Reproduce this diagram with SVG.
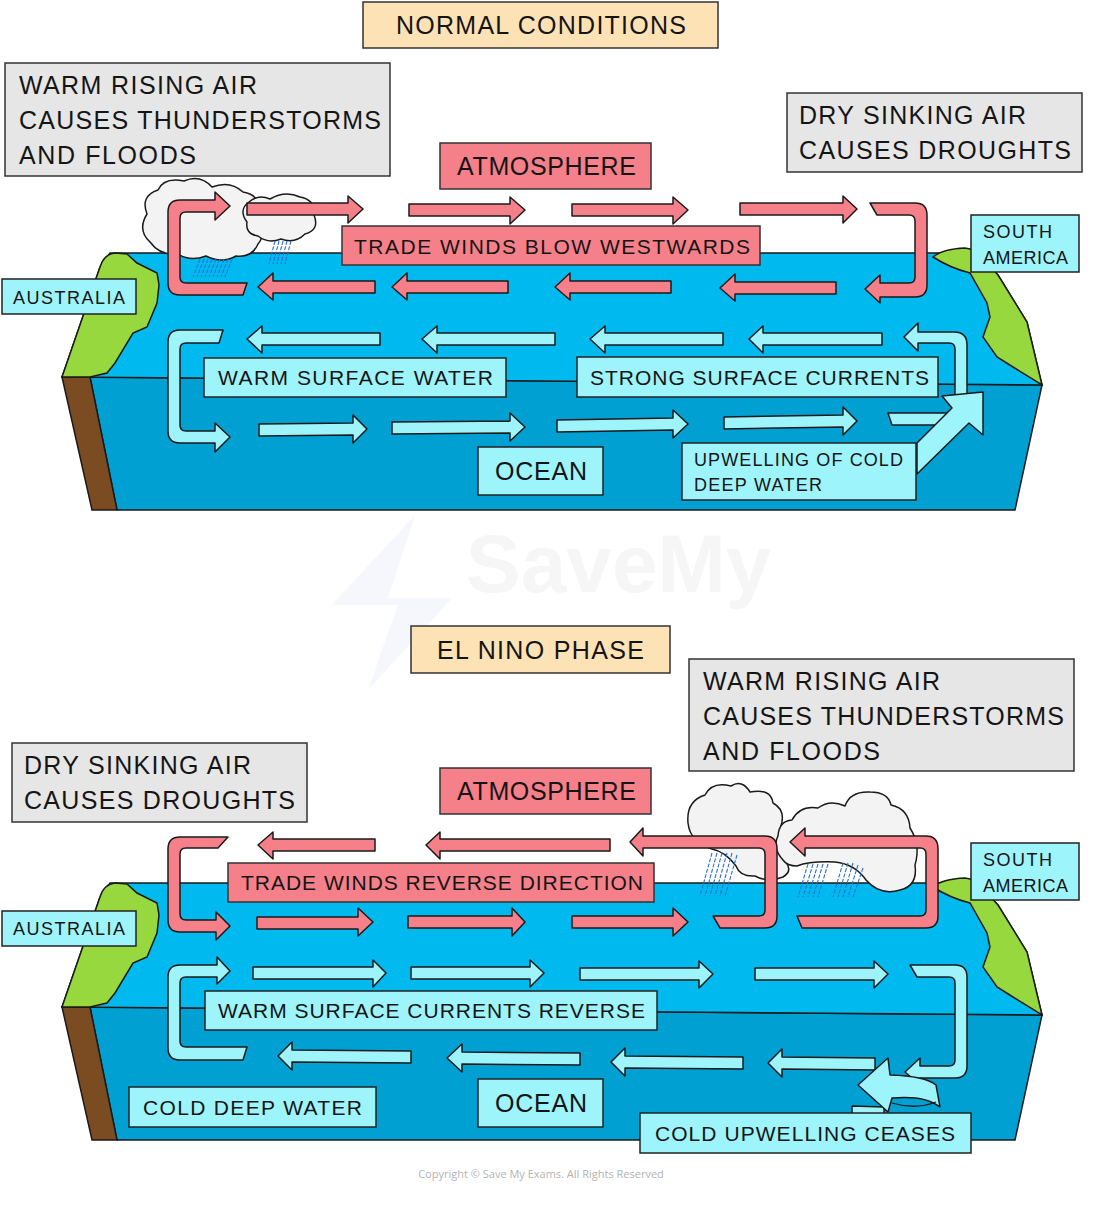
<svg xmlns="http://www.w3.org/2000/svg" xmlns:xlink="http://www.w3.org/1999/xlink" width="1100" height="1205" viewBox="0 0 1100 1205">
<style>
.pk{fill:#f6808a;stroke:#1a1a1a;stroke-width:1.5;stroke-linejoin:round}
.cy{fill:#9ef4fb;stroke:#1a1a1a;stroke-width:1.5;stroke-linejoin:round}
.bx-grey{fill:#e6e6e6;stroke:#333;stroke-width:1.5}
.bx-peach{fill:#fde2b5;stroke:#333;stroke-width:1.5}
.bx-pink{fill:#f6808a;stroke:#333;stroke-width:1.5}
.bx-cyan{fill:#9ef4fb;stroke:#222;stroke-width:1.5}
.cloud{fill:#f3f3f3;stroke:#1a1a1a;stroke-width:1.5;stroke-linejoin:round}
.rain{stroke:#2a6fd6;stroke-width:1.1;stroke-dasharray:4 1.5;fill:none}
.t{font-family:"Liberation Sans",Arial,sans-serif;fill:#151515}
.L{font-size:25px}
.M{font-size:21px}
.S{font-size:18px}
</style>
<defs>
<g id="oceanBlock">
<path d="M90,377 L1042,385 L1015,510 L117,510 Z" fill="#00a0d3" stroke="#1a1a1a" stroke-width="1.5"/>
<path d="M110,253 L975,253 L998,275 L1027,322 L1042,385 L62,377 L100,267 Z" fill="#00b9ef" stroke="#1a1a1a" stroke-width="1.5"/>
<path d="M62,377 L90,377 L117,510 L92,510 Z" fill="#7b4b22" stroke="#1a1a1a" stroke-width="1.5"/>
<path d="M62,377 L100,267 Q104,254 115,253 L127,254 L137,263 L157,273 L159,285 L157,303 L147,327 L133,333 L115,363 L107,373 L90,377 Z" fill="#97d83f" stroke="#1a1a1a" stroke-width="1.5"/>
<path d="M933,257 Q942,249 965,248 L975,250 L998,275 L1027,322 L1042,385 L1013,367 L997,357 L983,337 L990,317 L987,303 L970,273 Q950,268 933,257 Z" fill="#97d83f" stroke="#1a1a1a" stroke-width="1.5"/>
</g>
</defs>
<rect width="1100" height="1205" fill="#ffffff"/>

<g id="watermark" opacity="0.5">
<path d="M415,515 L332,605 L398,605 L368,690 L452,598 L388,598 Z" fill="#eef1fa"/>
<text x="466" y="592" font-family="Liberation Sans,Arial,sans-serif" font-weight="bold" font-size="82" fill="#eeeeef">SaveMy</text>
</g>

<!-- ===== TOP: NORMAL CONDITIONS ===== -->
<g id="ocean-top"><use xlink:href="#oceanBlock" href="#oceanBlock"/></g>

<g id="clouds-top">
<path class="cloud" d="M150,242 Q137,230 147,214 Q140,196 158,190 Q164,177 184,181 Q200,174 212,187 Q230,180 243,192 Q262,195 258,215 Q268,232 258,244 Q252,258 236,256 Q222,264 206,256 Q190,262 178,254 Q160,256 150,242 Z"/>
<path class="cloud" d="M247,222 Q238,210 249,202 Q258,194 270,199 Q285,190 300,197 Q316,200 314,215 Q320,230 305,234 Q295,244 281,239 Q268,244 258,236 Q245,234 247,222 Z"/>
<g class="rain">
<path d="M200,259 L193,277 M204,259 L197,277 M208,259 L201,277 M212,259 L205,277 M216,259 L209,277 M220,259 L213,277 M224,259 L217,277 M228,259 L221,277 M232,259 L225,277"/>
<path d="M275,241 L269,264 M279,241 L273,264 M283,241 L277,264 M287,241 L281,264 M291,241 L285,264"/>
</g>
</g>

<g id="connectors-top">
<path class="pk" d="M247,203 L348,203 L348,196 L363,209 L348,223 L348,215 L247,215 Z"/>
<path class="pk" d="M409,204 L510,204 L510,197 L525,210 L510,224 L510,216 L409,216 Z"/>
<path class="pk" d="M572,204 L673,204 L673,197 L688,210 L673,224 L673,216 L572,216 Z"/>
<path class="pk" d="M740,203 L843,203 L843,196 L857,209 L843,223 L843,215 L740,215 Z"/>
<path class="pk" d="M247,283 L186,283 Q180,283 180,277 L180,218 Q180,212 186,212 L215,212 L215,220 L230,206 L215,192 L215,200 L180,200 Q168,200 168,212 L168,283 Q168,295 180,295 L243,295 Z"/>
<path class="pk" d="M870,203 L915,203 Q927,203 927,215 L927,285 Q927,297 915,297 L880,297 L880,303 L865,289 L880,275 L880,283 L909,283 Q915,283 915,277 L915,221 Q915,215 909,215 L877,215 Z"/>
<path class="pk" d="M375,281 L273,281 L273,273 L258,287 L273,300 L273,293 L375,293 Z"/>
<path class="pk" d="M508,281 L407,281 L407,273 L392,287 L407,300 L407,293 L508,293 Z"/>
<path class="pk" d="M671,281 L570,281 L570,273 L555,287 L570,300 L570,293 L671,293 Z"/>
<path class="pk" d="M836,282 L735,282 L735,274 L720,288 L735,301 L735,294 L836,294 Z"/>
<path class="cy" d="M380,333 L262,333 L262,326 L247,339 L262,353 L262,345 L380,345 Z"/>
<path class="cy" d="M555,333 L437,333 L437,326 L422,339 L437,353 L437,345 L555,345 Z"/>
<path class="cy" d="M723,333 L605,333 L605,326 L590,339 L605,353 L605,345 L723,345 Z"/>
<path class="cy" d="M882,333 L763,333 L763,326 L749,339 L763,353 L763,345 L882,345 Z"/>
<path class="cy" d="M223,330 L180,330 Q168,330 168,342 L168,431 Q168,443 180,443 L215,443 L215,452 L230,437 L215,423 L215,431 L186,431 Q180,431 180,425 L180,349 Q180,343 186,343 L219,343 Z"/>
<path class="cy" d="M259,424 L353,423 L353,415 L367,429 L353,443 L353,435 L259,436 Z"/>
<path class="cy" d="M392,422 L510,421 L510,413 L525,427 L510,441 L510,433 L392,434 Z"/>
<path class="cy" d="M557,420 L673,418 L673,410 L688,424 L673,438 L673,430 L557,432 Z"/>
<path class="cy" d="M724,417 L843,415 L843,407 L857,421 L843,435 L843,427 L724,429 Z"/>
<path class="cy" d="M888,413 L952,413 L952,425 L892,425 Z"/>
<path class="cy" d="M967,400 L967,345 Q967,332 954,332 L918,332 L918,323 L904,337 L918,351 L918,343 L949,343 Q955,343 955,349 L955,400 Z"/>
<path class="cy" d="M917,443 L952,408 L942,396 L983,392 L983,435 L969,423 L917,474 Z"/>
</g>

<g id="n-normal-title"><rect class="bx-peach" x="363" y="2" width="355" height="46"/><text class="t L" x="396" y="34" textLength="290" lengthAdjust="spacing">NORMAL CONDITIONS</text></g>
<g id="n-top-warm-air"><rect class="bx-grey" x="5" y="63" width="385" height="113"/>
<text class="t L" x="19" y="94" textLength="238" lengthAdjust="spacing">WARM RISING AIR</text>
<text class="t L" x="19" y="129" textLength="362" lengthAdjust="spacing">CAUSES THUNDERSTORMS</text>
<text class="t L" x="19" y="164" textLength="177" lengthAdjust="spacing">AND FLOODS</text></g>
<g id="n-top-dry-air"><rect class="bx-grey" x="787" y="93" width="295" height="79"/>
<text class="t L" x="799" y="124" textLength="227" lengthAdjust="spacing">DRY SINKING AIR</text>
<text class="t L" x="799" y="159" textLength="272" lengthAdjust="spacing">CAUSES DROUGHTS</text></g>
<g id="n-top-atmosphere"><rect class="bx-pink" x="440" y="143" width="211" height="46"/><text class="t L" x="457" y="175" textLength="179" lengthAdjust="spacing">ATMOSPHERE</text></g>
<g id="n-top-trade"><rect class="bx-pink" x="342" y="226" width="418" height="39"/><text class="t M" x="354" y="254" textLength="396" lengthAdjust="spacing">TRADE WINDS BLOW WESTWARDS</text></g>
<g id="n-top-sa"><rect class="bx-cyan" x="971" y="215" width="108" height="57"/>
<text class="t S" x="983" y="238" textLength="69" lengthAdjust="spacing">SOUTH</text>
<text class="t S" x="983" y="264" textLength="85" lengthAdjust="spacing">AMERICA</text></g>
<g id="n-top-aus"><rect class="bx-cyan" x="2" y="279" width="134" height="35"/><text class="t S" x="13" y="304" textLength="112" lengthAdjust="spacing">AUSTRALIA</text></g>
<g id="n-top-wsw"><rect class="bx-cyan" x="204" y="358" width="302" height="39"/><text class="t M" x="218" y="385" textLength="275" lengthAdjust="spacing">WARM SURFACE WATER</text></g>
<g id="n-top-ssc"><rect class="bx-cyan" x="577" y="357" width="361" height="40"/><text class="t M" x="590" y="385" textLength="339" lengthAdjust="spacing">STRONG SURFACE CURRENTS</text></g>
<g id="n-top-ocean"><rect class="bx-cyan" x="478" y="447" width="125" height="48"/><text class="t L" x="495" y="480" textLength="92" lengthAdjust="spacing">OCEAN</text></g>
<g id="n-top-upwelling"><rect class="bx-cyan" x="682" y="443" width="234" height="57"/>
<text class="t S" x="694" y="466" textLength="209" lengthAdjust="spacing">UPWELLING OF COLD</text>
<text class="t S" x="694" y="491" textLength="128" lengthAdjust="spacing">DEEP WATER</text></g>

<!-- ===== BOTTOM: EL NINO ===== -->
<g id="ocean-bottom"><use xlink:href="#oceanBlock" href="#oceanBlock" transform="translate(0,630)"/></g>

<g id="clouds-bottom">
<path class="cloud" d="M712,849 Q690,842 688,823 Q686,801 705,795 Q712,781 731,786 Q742,779 750,792 Q771,788 773,803 Q786,810 781,826 Q788,845 782,858 Q795,870 783,877 Q768,883 755,876 Q740,877 736,866 Q726,852 712,849 Z"/>
<path class="cloud" d="M783,860 Q772,848 778,836 Q779,821 792,820 Q800,805 818,808 Q830,799 845,806 Q850,791 870,792 Q888,792 891,805 Q909,809 910,828 Q921,845 915,865 Q918,886 900,890 Q880,896 866,880 Q855,864 835,862 Q810,861 797,866 Q787,866 783,860 Z"/>
<g class="rain">
<path d="M712,853 L700,896 M717,853 L705,896 M722,853 L710,896 M727,853 L715,896 M732,853 L720,896 M737,855 L725,896"/>
<path d="M808,864 L798,897 M813,864 L803,897 M818,864 L808,897 M823,864 L813,897 M828,864 L818,897"/>
<path d="M843,863 L833,897 M848,863 L838,897 M853,863 L843,897 M858,865 L848,897 M863,868 L853,897"/>
</g>
</g>

<g id="connectors-bottom">
<path class="pk" d="M375,839 L273,839 L273,832 L258,845 L273,859 L273,851 L375,851 Z"/>
<path class="pk" d="M610,839 L440,839 L440,832 L426,845 L440,859 L440,851 L610,851 Z"/>
<path class="pk" d="M720,928 L765,928 Q777,928 777,916 L777,849 Q777,836 765,836 L643,836 L643,828 L630,842 L643,856 L643,848 L759,848 Q765,848 765,854 L765,910 Q765,916 759,916 L713,916 Z"/>
<path class="pk" d="M802,928 L926,928 Q938,928 938,916 L938,849 Q938,836 926,836 L805,836 L805,828 L790,842 L805,856 L805,848 L920,848 Q926,848 926,854 L926,910 Q926,916 920,916 L797,916 Z"/>
<path class="pk" d="M228,837 L180,837 Q168,837 168,849 L168,920 Q168,932 180,932 L216,932 L216,940 L230,926 L216,912 L216,920 L186,920 Q180,920 180,914 L180,854 Q180,848 186,848 L218,848 Z"/>
<path class="pk" d="M257,917 L358,917 L358,908 L373,922 L358,936 L358,929 L257,929 Z"/>
<path class="pk" d="M408,916 L512,916 L512,908 L525,922 L512,936 L512,928 L408,928 Z"/>
<path class="pk" d="M572,916 L673,916 L673,908 L688,922 L673,936 L673,928 L572,928 Z"/>
<path class="cy" d="M247,1047 L186,1047 Q180,1047 180,1041 L180,983 Q180,977 186,977 L217,977 L217,984 L230,971 L217,957 L217,965 L180,965 Q168,965 168,977 L168,1048 Q168,1060 180,1060 L243,1060 Z"/>
<path class="cy" d="M253,967 L373,967 L373,960 L386,973 L373,987 L373,979 L253,979 Z"/>
<path class="cy" d="M411,967 L530,967 L530,960 L544,973 L530,987 L530,979 L411,979 Z"/>
<path class="cy" d="M580,968 L699,968 L699,961 L713,974 L699,988 L699,980 L580,980 Z"/>
<path class="cy" d="M755,968 L874,968 L874,961 L888,974 L874,988 L874,980 L755,980 Z"/>
<path class="cy" d="M910,965 L955,965 Q967,965 967,977 L967,1066 Q967,1078 955,1078 L920,1078 L920,1085 L905,1072 L920,1058 L920,1066 L949,1066 Q955,1066 955,1060 L955,983 Q955,977 949,977 L917,977 Z"/>
<path class="cy" d="M411,1051 L292,1050 L292,1042 L278,1056 L292,1070 L292,1062 L411,1063 Z"/>
<path class="cy" d="M580,1053 L462,1052 L462,1044 L447,1058 L462,1072 L462,1064 L580,1065 Z"/>
<path class="cy" d="M743,1057 L625,1056 L625,1048 L611,1062 L625,1076 L625,1068 L743,1069 Z"/>
<path class="cy" d="M875,1058 L782,1057 L782,1049 L768,1063 L782,1077 L782,1069 L875,1070 Z"/>
<path class="cy" d="M852,1106 L884,1107 L884,1114 L852,1114 Z"/>
<path class="cy" d="M858,1085 L888,1058 L890,1075 Q925,1076 936,1085 L940,1107 Q925,1095 892,1098 L888,1112 Z"/>
<path d="M892,1103 Q915,1110 936,1102" fill="none" stroke="#1a1a1a" stroke-width="1.3"/>
</g>

<g id="n-elnino-title"><rect class="bx-peach" x="411" y="626" width="259" height="47"/><text class="t L" x="437" y="659" textLength="207" lengthAdjust="spacing">EL NINO PHASE</text></g>
<g id="n-bot-warm-air"><rect class="bx-grey" x="689" y="659" width="385" height="112"/>
<text class="t L" x="703" y="690" textLength="237" lengthAdjust="spacing">WARM RISING AIR</text>
<text class="t L" x="703" y="725" textLength="361" lengthAdjust="spacing">CAUSES THUNDERSTORMS</text>
<text class="t L" x="703" y="760" textLength="177" lengthAdjust="spacing">AND FLOODS</text></g>
<g id="n-bot-dry-air"><rect class="bx-grey" x="12" y="743" width="295" height="79"/>
<text class="t L" x="24" y="774" textLength="227" lengthAdjust="spacing">DRY SINKING AIR</text>
<text class="t L" x="24" y="809" textLength="271" lengthAdjust="spacing">CAUSES DROUGHTS</text></g>
<g id="n-bot-atmosphere"><rect class="bx-pink" x="440" y="768" width="211" height="46"/><text class="t L" x="457" y="800" textLength="179" lengthAdjust="spacing">ATMOSPHERE</text></g>
<g id="n-bot-trade"><rect class="bx-pink" x="228" y="863" width="426" height="39"/><text class="t M" x="241" y="890" textLength="402" lengthAdjust="spacing">TRADE WINDS REVERSE DIRECTION</text></g>
<g id="n-bot-sa"><rect class="bx-cyan" x="971" y="843" width="108" height="57"/>
<text class="t S" x="983" y="866" textLength="69" lengthAdjust="spacing">SOUTH</text>
<text class="t S" x="983" y="892" textLength="85" lengthAdjust="spacing">AMERICA</text></g>
<g id="n-bot-aus"><rect class="bx-cyan" x="2" y="911" width="134" height="35"/><text class="t S" x="13" y="935" textLength="112" lengthAdjust="spacing">AUSTRALIA</text></g>
<g id="n-bot-wscr"><rect class="bx-cyan" x="205" y="991" width="452" height="39"/><text class="t M" x="218" y="1018" textLength="427" lengthAdjust="spacing">WARM SURFACE CURRENTS REVERSE</text></g>
<g id="n-bot-cdw"><rect class="bx-cyan" x="129" y="1087" width="247" height="40"/><text class="t M" x="143" y="1115" textLength="219" lengthAdjust="spacing">COLD DEEP WATER</text></g>
<g id="n-bot-ocean"><rect class="bx-cyan" x="478" y="1079" width="125" height="48"/><text class="t L" x="495" y="1112" textLength="92" lengthAdjust="spacing">OCEAN</text></g>
<g id="n-bot-cuc"><rect class="bx-cyan" x="640" y="1113" width="331" height="40"/><text class="t M" x="655" y="1141" textLength="300" lengthAdjust="spacing">COLD UPWELLING CEASES</text></g>

<text x="541" y="1178" text-anchor="middle" font-family="Open Sans,Liberation Sans,sans-serif" font-size="11" fill="#b3b3b3">Copyright © Save My Exams. All Rights Reserved</text>
</svg>
